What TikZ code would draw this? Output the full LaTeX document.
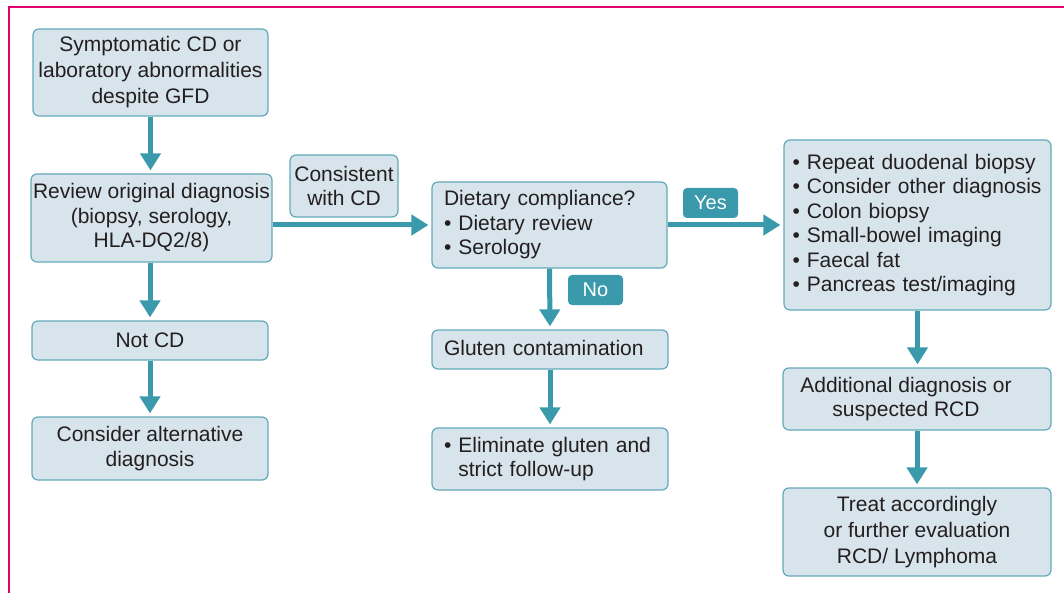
\documentclass[tikz,border=0pt]{standalone}
\usepackage{fontspec}
\setmainfont{Liberation Sans}
\usetikzlibrary{arrows.meta,calc}
\definecolor{boxfill}{HTML}{D7E4EB}
\definecolor{boxdraw}{HTML}{62AABB}
\definecolor{arr}{HTML}{3A9AAB}
\definecolor{framecol}{HTML}{E2006E}
\definecolor{txt}{HTML}{231F20}
\begin{document}
\begin{tikzpicture}[x=1pt,y=-1pt,
  box/.style={draw=boxdraw, fill=boxfill, line width=1.2pt, rounded corners=6pt,
    inner sep=0pt, text=txt, font=\fontsize{21}{24.5}\selectfont},
  wide/.style={font=\fontsize{21}{26}\selectfont},
  flow/.style={draw=arr, line width=5pt, -{Triangle[length=17pt,width=20pt]}, shorten >=3pt},
  tag/.style={fill=arr, rounded corners=4pt, text=white, font=\fontsize{20}{24}\selectfont,
    minimum width=55pt, minimum height=30pt, inner sep=0pt}]
\useasboundingbox (0,0) rectangle (1064,593);
\draw[framecol, line width=2.5pt] (9,593) -- (9,7) -- (1064,7);

\node[box, wide, minimum width=235pt, minimum height=87pt, align=center] (A) at (150.5,72.5)
  {Symptomatic CD or\\laboratory abnormalities\\despite GFD};
\node[box, minimum width=241pt, minimum height=88pt, align=center] (B) at (151.5,218)
  {Review original diagnosis\\(biopsy, serology,\\HLA-DQ2/8)};
\node[box, minimum width=108pt, minimum height=62pt, align=center] (C) at (344,186)
  {Consistent\\with CD};
\node[box, minimum width=235pt, minimum height=86pt, text width=211pt, align=left] (D) at (549.5,225)
  {Dietary compliance?\\• Dietary review\\• Serology};
\node[box, minimum width=236pt, minimum height=39pt, align=center] (N) at (150,340.5) {Not CD};
\node[box, minimum width=236pt, minimum height=63pt, align=center] (Cn) at (150,448.5)
  {Consider alternative\\diagnosis};
\node[box, minimum width=236pt, minimum height=39pt, text width=212pt, align=left] (G) at (550,349.5)
  {\raisebox{4pt}{Gluten contamination}};
\node[box, minimum width=236pt, minimum height=62pt, text width=212pt, align=left] (E) at (550,459)
  {• Eliminate gluten and\\\phantom{•\ }strict follow-up};
\node[box, minimum width=267pt, minimum height=170pt, text width=250pt, align=left] (R) at (917.5,225)
  {• Repeat duodenal biopsy\\• Consider other diagnosis\\• Colon biopsy\\• Small-bowel imaging\\• Faecal fat\\• Pancreas test/imaging};
\node[box, minimum width=268pt, minimum height=62pt, align=center] (Ad) at (917,399)
  {Additional diagnosis or\hspace*{22pt}\\suspected RCD\hspace*{22pt}};
\node[box, wide, minimum width=268pt, minimum height=88pt, align=center] (T) at (917,532)
  {Treat accordingly\\or further evaluation\\RCD/ Lymphoma};

\node[tag] (yes) at (710.5,203) {Yes};
\node[tag] (no) at (595.5,290) {No};

\draw[flow] (A.south) -- (A.south |- B.north);
\draw[flow] (N.north |- B.south) -- (N.north);
\draw[flow] (N.south) -- (Cn.north);
\draw[flow] (B.east |- D.west) -- (D.west);
\draw[flow] (D.east) -- (R.west);
\draw[flow] (D.south) -- (G.north);
\draw[flow] (G.south) -- (E.north);
\draw[flow] (R.south) -- (R.south |- Ad.north);
\draw[flow] (Ad.south) -- (T.north);
\end{tikzpicture}
\end{document}
